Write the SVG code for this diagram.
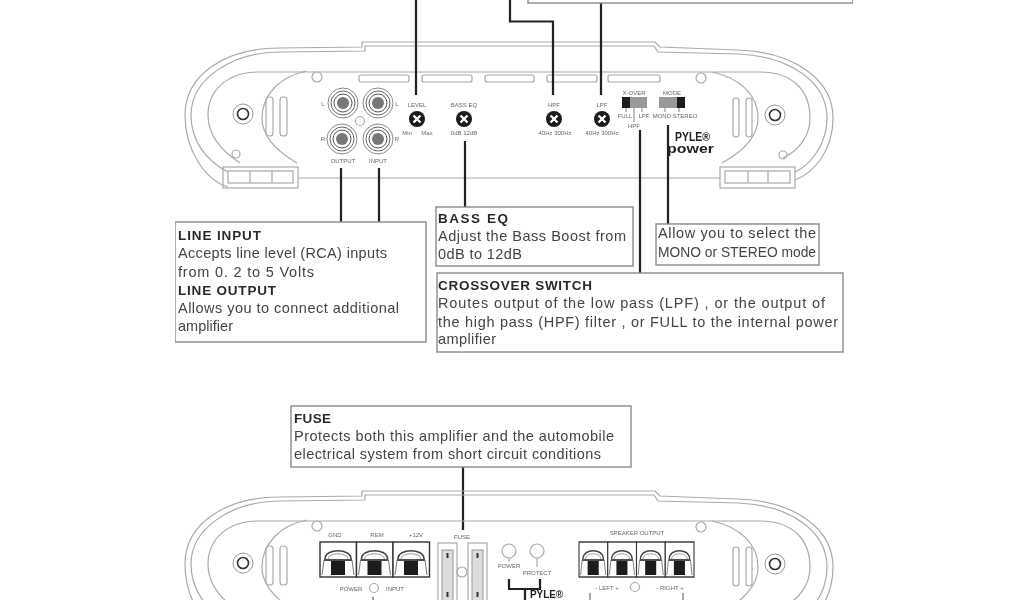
<svg xmlns="http://www.w3.org/2000/svg" width="1024" height="600" viewBox="0 0 1024 600">
<style>
text{font-family:"Liberation Sans",Arial,sans-serif;fill:#444}
.t{font-size:14.500px}
.b{font-size:13.500px;font-weight:bold;fill:#2c2c2c}
.s{font-size:6px;fill:#666;text-anchor:middle}
.box{fill:#fff;stroke:#8a8a8a;stroke-width:1.4}
.l{fill:none;stroke:#aaa;stroke-width:1.2}
.w{fill:none;stroke:#222;stroke-width:2.2}
.g{fill:#777}
.k{fill:#1a1a1a}
.m{fill:#222;font-weight:bold;font-size:12px}
</style>
<defs>
<filter id="soft" x="0" y="0" width="100%" height="100%"><feGaussianBlur stdDeviation="0.5"/></filter>
<g id="shell">
<path class="l" d="M228 187C205 180 185 150 185 115C185 75 225 48 280 48L362 47V42H655L660 47L738 50C795 52 833 80 833 118C833 150 815 172 795 180"/>
<path class="l" d="M228 172C205 160 191 140 191 115C191 80 230 52 282 52L365 51V46H654L658 52L738 54C790 56 827 82 827 118C827 145 810 165 795 172"/>
<path class="l" stroke-width="1.6" d="M258 72H760C792 72 810 90 810 118C810 135 800 150 783 158"/>
<path class="l" d="M240 163C220 150 208 135 208 115C208 90 228 72 258 72"/>
<path class="l" d="M307 71C280 76 262 95 262 118C262 138 278 152 297 163"/>
<path class="l" d="M712 72C740 78 758 95 758 118C758 138 742 152 722 163"/>
<circle class="l" cx="317" cy="77" r="5"/><circle class="l" cx="701" cy="78" r="5"/>
<circle cx="243" cy="114" r="10" fill="#fff" stroke="#999"/><circle cx="243" cy="114" r="5.500" fill="#fff" stroke="#333" stroke-width="1.600"/>
<circle cx="775" cy="115" r="10" fill="#fff" stroke="#999"/><circle cx="775" cy="115" r="5.500" fill="#fff" stroke="#333" stroke-width="1.600"/>
<rect class="l" x="266" y="97" width="7" height="39" rx="3"/><rect class="l" x="280" y="97" width="7" height="39" rx="3"/>
<rect class="l" x="733" y="98" width="6" height="39" rx="3"/><rect class="l" x="746" y="98" width="6" height="39" rx="3"/>
</g>
<g id="lower">
<path class="l" stroke-width="1.800" d="M298 178H720"/>
<rect class="l" x="223" y="167" width="75" height="21"/><rect class="l" x="228" y="171" width="65" height="12"/>
<rect class="l" x="720" y="167" width="75" height="21"/><rect class="l" x="725" y="171" width="65" height="12"/>
<path class="l" d="M250 171V183M272 171V183M748 171V183M768 171V183"/>
<circle class="l" cx="236" cy="154" r="4"/><circle class="l" cx="783" cy="155" r="4"/>
</g>
<g id="jack"><circle r="15" fill="#fff" stroke="#888"/><circle r="12" fill="#fff" stroke="#666"/><circle r="9" fill="#fff" stroke="#555"/><circle r="6" class="g"/></g>
<g id="knob"><circle r="8" class="k"/><path d="M-3.500 -3.500L3.500 3.500M3.500 -3.500L-3.500 3.500" stroke="#fff" stroke-width="2.400"/></g>
<g id="term">
<rect width="36.500" height="35" fill="#fff" stroke="#333" stroke-width="1.400"/>
<path d="M5 17C5 6 31 6 31 17" fill="none" stroke="#444" stroke-width="1.600"/>
<path d="M8 17C8 10 28 10 28 17" fill="none" stroke="#999"/>
<path d="M4 18H32" stroke="#222" stroke-width="1.600"/>
<path d="M4 18L2 33M32 18L34 33" stroke="#777"/>
<rect x="11" y="19" width="14" height="14" class="k"/>
</g>
</defs>
<rect width="1024" height="600" fill="#fff"/>
<g filter="url(#soft)">
<g id="amp-top">
<use href="#shell"/><use href="#lower"/>
<rect class="l" x="359" y="75" width="50" height="7" rx="2"/><rect class="l" x="422" y="75" width="50" height="7" rx="2"/><rect class="l" x="485" y="75" width="49" height="7" rx="2"/><rect class="l" x="547" y="75" width="50" height="7" rx="2"/><rect class="l" x="608" y="75" width="52" height="7" rx="2"/>
<use href="#jack" x="343" y="103"/><use href="#jack" x="378" y="103"/><use href="#jack" x="342" y="139"/><use href="#jack" x="378" y="139"/>
<circle class="l" cx="360" cy="121" r="4.500"/>
<text class="s" x="323" y="106">L</text><text class="s" x="397" y="106">L</text><text class="s" x="323" y="141">R</text><text class="s" x="397" y="141">R</text>
<text class="s" x="343" y="163">OUTPUT</text><text class="s" x="378" y="163">INPUT</text>
</g>
<g id="level"><text class="s" x="417" y="107">LEVEL</text><use href="#knob" x="417" y="119"/><text class="s" x="407" y="135">Min</text><text class="s" x="427" y="135">Max</text></g>
<g id="bass-eq-ctl"><text class="s" x="464" y="107">BASS EQ</text><use href="#knob" x="464" y="119"/><text class="s" x="464" y="135">0dB  12dB</text></g>
<g id="hpf"><text class="s" x="554" y="107">HPF</text><use href="#knob" x="554" y="119"/><text class="s" x="555" y="135">40Hz 300Hz</text></g>
<g id="lpf"><text class="s" x="602" y="107">LPF</text><use href="#knob" x="602" y="119"/><text class="s" x="602" y="135">40Hz 300Hz</text></g>
<g id="xover-switch"><text class="s" x="634" y="95">X-OVER</text><rect x="622" y="97" width="25" height="11" fill="#999"/><rect x="622" y="97" width="8" height="11" class="k"/>
<path d="M634 108V122M626 108V112M642 108V112" stroke="#666" stroke-width=".8"/><text class="s" x="625" y="118">FULL</text><text class="s" x="644" y="118">LPF</text><text class="s" x="634" y="128">HPF</text></g>
<g id="mode-switch"><text class="s" x="672" y="95">MODE</text><rect x="659" y="97" width="26" height="11" fill="#999"/><rect x="677" y="97" width="8" height="11" class="k"/>
<path d="M665 108V112M679 108V112" stroke="#666" stroke-width=".8"/><text class="s" x="662" y="118">MONO</text><text class="s" x="685" y="118">STEREO</text></g>
<g id="logo-top"><text class="m" x="675" y="141" textLength="35" lengthAdjust="spacingAndGlyphs">PYLE®</text><text class="m" x="667" y="153" textLength="47" lengthAdjust="spacingAndGlyphs">power</text></g>

<g id="connectors">
<path class="w" d="M416 0V95"/>
<path class="w" d="M510 0V21.500H553V95"/>
<path class="w" d="M601 0V95"/>
<path class="w" d="M341 168V222"/>
<path class="w" d="M379 168V222"/>
<path class="w" d="M465 141V207"/>
<path class="w" d="M640 130V273"/>
<path class="w" d="M668 125V224"/>
<path class="w" d="M463 467V530"/>
<path class="w" d="M509 579V589H540V579M525 589V600"/>
</g>

<g id="box-top"><rect class="box" x="528" y="-10" width="325" height="13"/></g>
<g id="box-line"><rect class="box" x="175" y="222" width="251" height="120"/>
<text class="b" x="178" y="240" textLength="83">LINE INPUT</text>
<text class="t" x="178" y="258" textLength="209">Accepts line level (RCA) inputs</text>
<text class="t" x="178" y="277" textLength="136">from 0. 2 to 5 Volts</text>
<text class="b" x="178" y="295" textLength="98">LINE OUTPUT</text>
<text class="t" x="178" y="313" textLength="221">Allows you to connect additional</text>
<text class="t" x="178" y="331" textLength="55">amplifier</text></g>
<g id="box-bass"><rect class="box" x="436" y="207" width="197" height="59"/>
<text class="b" x="438" y="223" textLength="70">BASS  EQ</text>
<text class="t" x="438" y="241" textLength="188">Adjust the Bass Boost from</text>
<text class="t" x="438" y="259" textLength="84">0dB to 12dB</text></g>
<g id="box-crossover"><rect class="box" x="437" y="273" width="406" height="79"/>
<text class="b" x="438" y="290" textLength="154">CROSSOVER SWITCH</text>
<text class="t" x="438" y="308" textLength="387">Routes output of the  low pass (LPF) ,  or the output of</text>
<text class="t" x="438" y="327" textLength="400">the high pass (HPF)  filter , or FULL to the internal power</text>
<text class="t" x="438" y="344" textLength="58">amplifier</text></g>
<g id="box-mode"><rect class="box" x="656" y="224" width="163" height="41"/>
<text class="t" x="658" y="238" textLength="158">Allow you to select the</text>
<text class="t" x="658" y="257" textLength="158" lengthAdjust="spacingAndGlyphs">MONO or STEREO mode</text></g>
<g id="box-fuse"><rect class="box" x="291" y="406" width="340" height="61"/>
<text class="b" x="294" y="423" textLength="37">FUSE</text>
<text class="t" x="294" y="441" textLength="320">Protects both this amplifier and the automobile</text>
<text class="t" x="294" y="459" textLength="307">electrical system from short circuit conditions</text></g>

<g id="amp-bottom">
<use href="#shell" y="449"/>
<text class="s" x="335" y="537">GND</text><text class="s" x="377" y="537">REM</text><text class="s" x="416" y="537">+12V</text>
<use href="#term" x="320" y="542"/><use href="#term" x="356.500" y="542"/><use href="#term" x="393" y="542"/>
<text class="s" x="351" y="591">POWER</text><circle class="l" cx="374" cy="588" r="4.500"/><text class="s" x="395" y="591">INPUT</text>
<path d="M373 597V600" stroke="#333"/>
</g>
<g id="fuse-block"><text class="s" x="462" y="539">FUSE</text>
<rect class="l" x="438" y="543" width="19" height="60"/><rect class="l" x="468" y="543" width="19" height="60"/>
<rect x="442" y="550" width="11" height="53" fill="#ddd" stroke="#999"/><rect x="472" y="550" width="11" height="53" fill="#ddd" stroke="#999"/>
<path d="M447.500 553V558M447.500 592V597M477.500 553V558M477.500 592V597" stroke="#333" stroke-width="2"/>
<circle class="l" cx="462" cy="572" r="5" fill="#fff"/></g>
<g id="leds"><circle class="l" cx="509" cy="551" r="7"/><circle class="l" cx="537" cy="551" r="7"/><path class="l" d="M509 558V562M537 558V567"/>
<text class="s" x="509" y="568">POWER</text><text class="s" x="537" y="575">PROTECT</text></g>
<g id="logo-bottom"><text class="m" x="530" y="598" textLength="33" lengthAdjust="spacingAndGlyphs" style="font-size:10px">PYLE®</text></g>
<g id="speaker"><text class="s" x="637" y="535">SPEAKER OUTPUT</text>
<g transform="translate(579 542) scale(.7877 1)"><use href="#term"/><use href="#term" x="36.500"/><use href="#term" x="73"/><use href="#term" x="109.500"/></g>
<text class="s" x="607" y="590">-  LEFT +</text><circle class="l" cx="635" cy="587" r="4.500"/><text class="s" x="670" y="590">-  RIGHT +</text>
<path d="M590 593V600M683 593V600" stroke="#555"/></g>
</g>
</svg>
